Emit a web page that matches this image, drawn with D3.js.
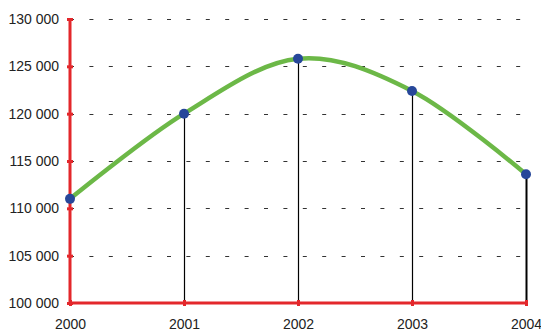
<!DOCTYPE html>
<html><head><meta charset="utf-8">
<script src="https://cdn.jsdelivr.net/npm/d3@7"></script>
<style>body{margin:0;background:#fff}</style>
</head><body>
<script>
const years = [2000, 2001, 2002, 2003, 2004];
const values = [111000, 120000, 125800, 122400, 113600];
const yTicks = [100000, 105000, 110000, 115000, 120000, 125000, 130000];

const W = 541, H = 331;
const svg = d3.select("body").append("svg").attr("width", W).attr("height", H);
const x = d3.scaleLinear().domain([2000, 2004]).range([70, 526]);
const y = d3.scaleLinear().domain([100000, 130000]).range([303, 19]);
const fmt = v => d3.format(",")(v).replace(/,/g, " ");

// grid
svg.append("g").selectAll("line").data(yTicks.slice(1)).join("line")
  .attr("x1", x(2000)).attr("x2", x(2004))
  .attr("y1", d => Math.round(y(d)) + 0.5).attr("y2", d => Math.round(y(d)) + 0.5)
  .attr("stroke", "#333").attr("stroke-width", 1).attr("stroke-dasharray", "4,15.4");

// drop lines
svg.append("g").selectAll("line").data(years.slice(1)).join("line")
  .attr("x1", d => Math.round(x(d)) + 0.5).attr("x2", d => Math.round(x(d)) + 0.5)
  .attr("y1", (d, i) => y(values[i + 1])).attr("y2", y(100000))
  .attr("stroke", "#000").attr("stroke-width", (d, i) => i === 3 ? 2 : 1.2);

// axes
const red = "#e3272b";
const yAxis = svg.append("g").attr("transform", `translate(${x(2000)},0)`)
  .call(d3.axisLeft(y).tickValues(yTicks).tickFormat(fmt).tickSize(3).tickPadding(8));
const xAxis = svg.append("g").attr("transform", `translate(0,${y(100000)})`)
  .call(d3.axisBottom(x).tickValues(years).tickFormat(d3.format("d")).tickSize(3).tickPadding(13));
[yAxis, xAxis].forEach(g => {
  g.attr("font-size", 14).attr("font-family", "Liberation Sans, Arial, sans-serif");
  g.select(".domain").attr("stroke", red).attr("stroke-width", 3);
  g.selectAll(".tick line").attr("stroke", red).attr("stroke-width", 3);
  g.selectAll("text").attr("fill", "#222");
});
yAxis.selectAll(".tick line").attr("x1", -3).attr("x2", 3);
xAxis.selectAll(".tick line").attr("y1", -3).attr("y2", 3);
yAxis.select(".domain").attr("d", `M0,${y(130000)}V${y(100000)}`);
xAxis.select(".domain").attr("d", `M${x(2000)},0H${x(2004)}`);

// curve
const pts = years.map((d, i) => [x(d), y(values[i])]);
svg.append("path").attr("d", d3.line().curve(d3.curveCardinal.tension(0))(pts))
  .attr("fill", "none").attr("stroke", "#6cb847").attr("stroke-width", 4.5);

svg.append("g").selectAll("circle").data(pts).join("circle")
  .attr("cx", d => d[0]).attr("cy", d => d[1]).attr("r", 5).attr("fill", "#27479a");
</script>
</body></html>
